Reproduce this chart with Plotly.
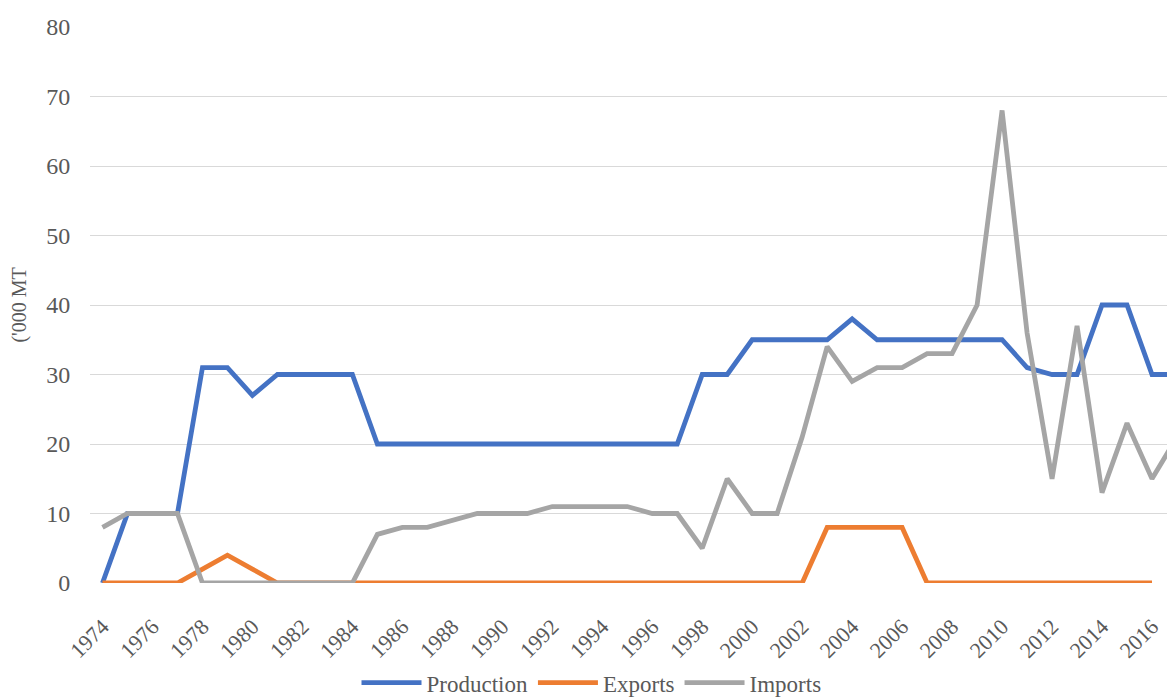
import plotly.graph_objects as go

years = list(range(1974, 2018))
production = [0, 10, 10, 10, 31, 31, 27, 30, 30, 30, 30, 20, 20, 20, 20, 20, 20, 20, 20, 20,
              20, 20, 20, 20, 30, 30, 35, 35, 35, 35, 38, 35, 35, 35, 35, 35, 35, 31, 30, 30,
              40, 40, 30, 30]
exports = [0, 0, 0, 0, 2, 4, 2, 0, 0, 0, 0, 0, 0, 0, 0, 0, 0, 0, 0, 0,
           0, 0, 0, 0, 0, 0, 0, 0, 0, 8, 8, 8, 8, 0, 0, 0, 0, 0, 0, 0,
           0, 0, 0, None]
imports = [8, 10, 10, 10, 0, 0, 0, 0, 0, 0, 0, 7, 8, 8, 9, 10, 10, 10, 11, 11,
           11, 11, 10, 10, 5, 15, 10, 10, 21, 34, 29, 31, 31, 33, 33, 40, 68, 36, 15, 37,
           13, 23, 15, 21]
tick_years = list(range(1974, 2017, 2))

font_family = "Liberation Serif"
txt = "#595959"

fig = go.Figure()
for name, vals, col in [("Production", production, "#4472C4"),
                        ("Exports", exports, "#ED7D31"),
                        ("Imports", imports, "#A5A5A5")]:
    fig.add_trace(go.Scatter(x=years, y=vals, name=name, mode="lines",
                             line=dict(color=col, width=4.8), connectgaps=False))

fig.update_layout(
    width=1167, height=692,
    margin=dict(l=82, r=0, t=19, b=117),
    plot_bgcolor="white", paper_bgcolor="white",
    font=dict(family=font_family, color=txt),
    showlegend=True,
    legend=dict(orientation="h", x=0.5, xanchor="center", xref="container",
                y=0.025, yanchor="middle", yref="container",
                font=dict(size=23, color=txt, family=font_family), itemwidth=60, traceorder="normal"),
    xaxis=dict(range=[1973.5, 2016.92], tickvals=tick_years, ticktext=[str(y) for y in tick_years],
               tickangle=-45, tickfont=dict(size=22, color=txt, family=font_family), showgrid=False,
               zeroline=False, showline=False, ticks="outside", ticklen=21, tickcolor="rgba(0,0,0,0)",
               automargin=False),
    yaxis=dict(range=[0, 80], dtick=10, showgrid=True, gridcolor="#D9D9D9", gridwidth=1.3,
               zeroline=False, showline=False, tickfont=dict(size=24, color=txt, family=font_family),
               ticks="outside", ticklen=14, tickcolor="rgba(0,0,0,0)", automargin=False,
               title=dict(text="('000 MT", font=dict(size=20, color=txt, family=font_family), standoff=15)),
)

fig.write_html("out.html")
